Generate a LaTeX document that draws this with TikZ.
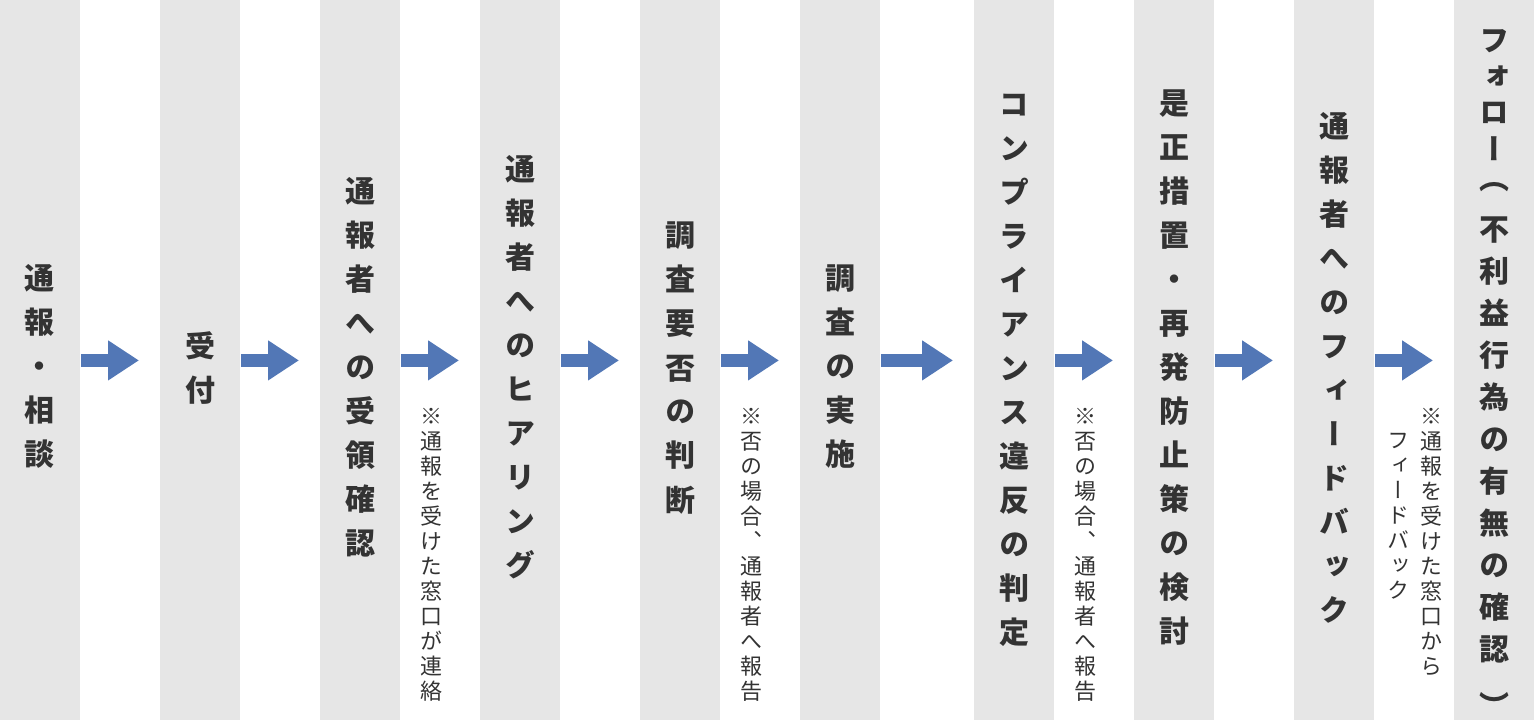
\documentclass[tikz,border=0pt]{standalone}
\usepackage{fontspec}
\usetikzlibrary{arrows.meta,positioning}
\newfontfamily\jpfont{Noto Sans CJK JP}[RawFeature=+vert]
\definecolor{colgray}{HTML}{E6E6E6}
\definecolor{flowblue}{HTML}{5277B6}
\definecolor{txtgray}{HTML}{333333}
\newcommand\fixedlines{\lineskiplimit=-20pt\relax}

\begin{document}
\begin{tikzpicture}[x=0.5pt,y=-0.5pt]
\tikzstyle{col}=[fill=colgray,minimum width=40pt,minimum height=360pt,inner sep=0pt,anchor=north west]
\tikzstyle{lbl}=[inner sep=0pt,align=center,text=txtgray,font=\jpfont\bfseries\fontsize{15}{22}\selectfont\fixedlines]
\tikzstyle{note}=[inner sep=0pt,anchor=north,align=center,text=txtgray,font=\jpfont\fontsize{11}{12.5}\selectfont\fixedlines]
\tikzstyle{flow}=[draw=flowblue,line width=6.75pt,shorten >=10.5pt,-{Triangle[length=15.5pt,width=19pt]}]
   \useasboundingbox (0,0) rectangle (1534,720);

   % columns
   \node (c1) [col] at (0,0) {};
   \node (c2) [col] at (160,0) {};
   \node (c3) [col] at (320,0) {};
   \node (c4) [col] at (480,0) {};
   \node (c5) [col] at (640,0) {};
   \node (c6) [col] at (800,0) {};
   \node (c7) [col] at (974,0) {};
   \node (c8) [col] at (1134,0) {};
   \node (c9) [col] at (1294,0) {};
   \node (c10) [col] at (1454,0) {};

   % step labels
   \node (t1) [lbl] at (40,366) {通\\報\\・\\相\\談};
   \node (t2) [lbl] at (200,368) {受\\付};
   \node (t3) [lbl] at (360,367) {通\\報\\者\\へ\\の\\受\\領\\確\\認};
   \node (t4) [lbl] at (520,367) {通\\報\\者\\へ\\の\\ヒ\\ア\\リ\\ン\\グ};
   \node (t5) [lbl] at (680,368) {調\\査\\要\\否\\の\\判\\断};
   \node (t6) [lbl] at (840,367) {調\\査\\の\\実\\施};
   \node (t7) [lbl] at (1014,370) {コ\\ン\\プ\\ラ\\イ\\ア\\ン\\ス\\違\\反\\の\\判\\定};
   \node (t8) [lbl] at (1174,368) {是\\正\\措\\置\\・\\再\\発\\防\\止\\策\\の\\検\\討};
   \node (t9) [lbl] at (1334,368) {通\\報\\者\\へ\\の\\フ\\ィ\\ー\\ド\\バ\\ッ\\ク};
   \node (t10) [lbl,anchor=north,font=\jpfont\bfseries\fontsize{15}{21}\selectfont\fixedlines] at (1494,29)
      {フ\\[-3pt]ォ\\[-3pt]ロ\\[-2.5pt]ー\\[-6.5pt]（\\[4.5pt]不\\利\\益\\行\\為\\の\\有\\無\\の\\確\\認\\[7.5pt]）};

   % notes
   \node (n3) [note] at (431,408) {※\\通\\報\\を\\受\\け\\た\\窓\\口\\が\\連\\絡};
   \node (n5) [note] at (751,408) {※\\否\\の\\場\\合\\、\\通\\報\\者\\へ\\報\\告};
   \node (n7) [note] at (1085,408) {※\\否\\の\\場\\合\\、\\通\\報\\者\\へ\\報\\告};
   \node (n9) [note] at (1431,408) {※\\通\\報\\を\\受\\け\\た\\窓\\口\\か\\ら};
   \node (n9b) [note] at (1398,433) {フ\\ィ\\ー\\ド\\バ\\ッ\\ク};

   % arrows
   \path [flow] (c1) -- (c2);
   \path [flow] (c2) -- (c3);
   \path [flow] (c3) -- (c4);
   \path [flow] (c4) -- (c5);
   \path [flow] (c5) -- (c6);
   \path [flow] (c6) -- (c7);
   \path [flow] (c7) -- (c8);
   \path [flow] (c8) -- (c9);
   \path [flow] (c9) -- (c10);
\end{tikzpicture}
\end{document}
